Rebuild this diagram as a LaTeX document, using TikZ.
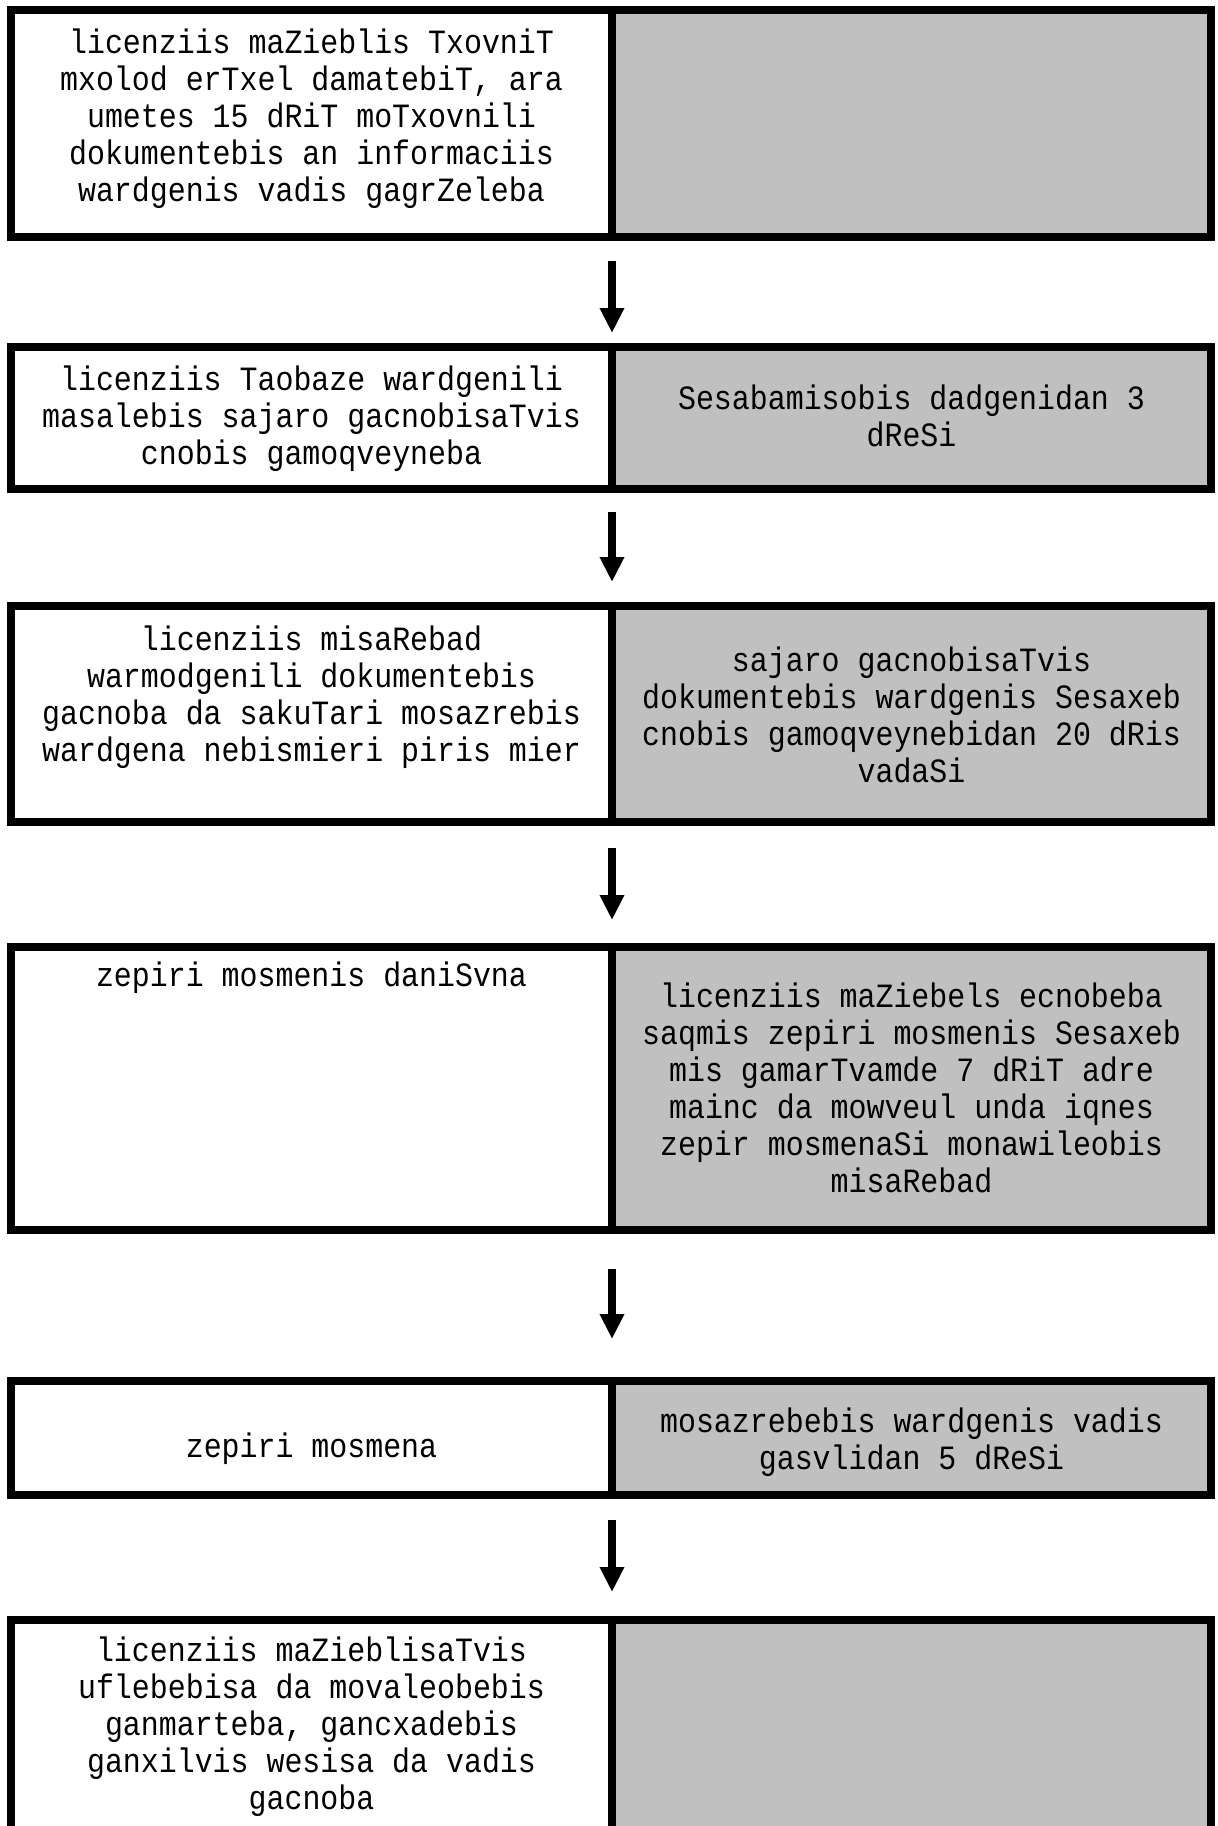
\documentclass[tikz,border=0pt]{standalone}
\usepackage{fontspec}
\newfontfamily\cellfont[FakeStretch=0.88]{Liberation Mono}
\usetikzlibrary{arrows.meta}
\definecolor{cellgray}{RGB}{192,192,192}
\begin{document}
\begin{tikzpicture}[x=0.5pt,y=-0.5pt,
  cellL/.style={draw=black, line width=4.2pt, fill=white, inner sep=0pt, outer sep=0pt, anchor=north west, minimum width=300.5pt},
  cellR/.style={cellL, fill=cellgray, minimum width=299.5pt},
  txt/.style={align=center, font=\cellfont\fontsize{17pt}{18.5pt}\selectfont, inner sep=0pt},
  arr/.style={line width=4pt, -{Triangle[width=11.5pt,length=12.5pt]}}]
\useasboundingbox (0,0) rectangle (1217,1826);
\clip (0,0) rectangle (1217,1826);
% row 1
\node[cellL, minimum height=113.5pt] (c1l) at (11,10) {};
\node[cellR, minimum height=113.5pt] (c1r) at (612,10) {};
% row 2
\node[cellL, minimum height=71pt] (c2l) at (11,347) {};
\node[cellR, minimum height=71pt] (c2r) at (612,347) {};
% row 3
\node[cellL, minimum height=108pt] (c3l) at (11,606) {};
\node[cellR, minimum height=108pt] (c3r) at (612,606) {};
% row 4
\node[cellL, minimum height=141.5pt] (c4l) at (11,947) {};
\node[cellR, minimum height=141.5pt] (c4r) at (612,947) {};
% row 5
\node[cellL, minimum height=57pt] (c5l) at (11,1381) {};
\node[cellR, minimum height=57pt] (c5r) at (612,1381) {};
% row 6
\node[cellL, minimum height=140pt] (c6l) at (11,1620) {};
\node[cellR, minimum height=140pt] (c6r) at (612,1620) {};

% texts
\node[txt] (t1l) at (311.5,119) {licenziis maZieblis TxovniT\\mxolod erTxel damatebiT, ara\\umetes 15 dRiT moTxovnili\\dokumentebis an informaciis\\wardgenis vadis gagrZeleba};
\node[txt] (t2l) at (311.5,418.5) {licenziis Taobaze wardgenili\\masalebis sajaro gacnobisaTvis\\cnobis gamoqveyneba};
\node[txt] (t2r) at (911.5,416) {Sesabamisobis dadgenidan 3\\dReSi};
\node[txt] (t3l) at (311.5,697.5) {licenziis misaRebad\\warmodgenili dokumentebis\\gacnoba da sakuTari mosazrebis\\wardgena nebismieri piris mier};
\node[txt] (t3r) at (911.5,715) {sajaro gacnobisaTvis\\dokumentebis wardgenis Sesaxeb\\cnobis gamoqveynebidan 20 dRis\\vadaSi};
\node[txt] (t4l) at (311.5,977.5) {zepiri mosmenis daniSvna};
\node[txt] (t4r) at (911.5,1088) {licenziis maZiebels ecnobeba\\saqmis zepiri mosmenis Sesaxeb\\mis gamarTvamde 7 dRiT adre\\mainc da mowveul unda iqnes\\zepir mosmenaSi monawileobis\\misaRebad};
\node[txt] (t5l) at (311.5,1448.5) {zepiri mosmena};
\node[txt] (t5r) at (911.5,1442) {mosazrebebis wardgenis vadis\\gasvlidan 5 dReSi};
\node[txt] (t6l) at (311.5,1727) {licenziis maZieblisaTvis\\uflebebisa da movaleobebis\\ganmarteba, gancxadebis\\ganxilvis wesisa da vadis\\gacnoba};

% arrows
\draw[arr, shorten <=12pt, shorten >=7pt] (c1l.south east) -- (c2l.north east);
\draw[arr, shorten <=11.5pt, shorten >=12pt] (c2l.south east) -- (c3l.north east);
\draw[arr, shorten <=13pt, shorten >=13.5pt] (c3l.south east) -- (c4l.north east);
\draw[arr, shorten <=19.5pt, shorten >=21pt] (c4l.south east) -- (c5l.north east);
\draw[arr, shorten <=12.5pt, shorten >=14pt] (c5l.south east) -- (c6l.north east);
\end{tikzpicture}
\end{document}
